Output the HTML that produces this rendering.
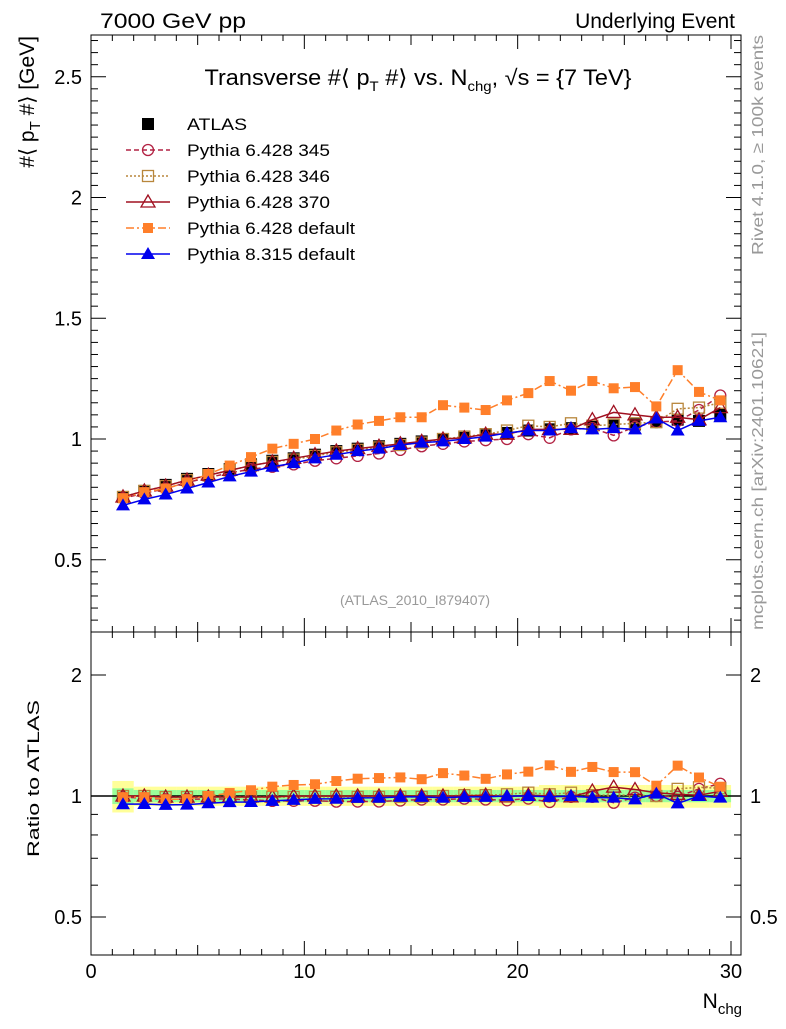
<!DOCTYPE html>
<html><head><meta charset="utf-8"><style>
body{margin:0;background:#fff;}
svg text{font-family:"Liberation Sans",sans-serif;}
</style></head><body>
<svg id="c" width="786" height="1024" xmlns="http://www.w3.org/2000/svg"></svg>
<script>
const xs=[1.5,2.5,3.5,4.5,5.5,6.5,7.5,8.5,9.5,10.5,11.5,12.5,13.5,14.5,15.5,16.5,17.5,18.5,19.5,20.5,21.5,22.5,23.5,24.5,25.5,26.5,27.5,28.5,29.5];
const atlas=[0.76,0.785,0.81,0.835,0.855,0.875,0.895,0.91,0.92,0.935,0.95,0.96,0.97,0.98,0.99,1.0,1.005,1.015,1.025,1.035,1.04,1.045,1.05,1.055,1.06,1.07,1.08,1.075,1.1];
const p345=[0.755,0.775,0.795,0.82,0.84,0.86,0.875,0.885,0.895,0.91,0.92,0.93,0.94,0.955,0.97,0.98,0.99,0.995,1.0,1.02,1.005,1.04,1.045,1.015,1.05,1.07,1.075,1.12,1.18];
const p346=[0.76,0.785,0.805,0.83,0.85,0.87,0.89,0.905,0.915,0.93,0.945,0.955,0.965,0.975,0.985,1.0,1.01,1.02,1.035,1.055,1.05,1.065,1.055,1.06,1.065,1.07,1.125,1.13,1.15];
const p370=[0.76,0.785,0.805,0.83,0.85,0.87,0.89,0.905,0.92,0.935,0.95,0.96,0.97,0.98,0.99,1.0,1.005,1.02,1.02,1.04,1.04,1.04,1.08,1.11,1.10,1.09,1.09,1.08,1.13];
const p6def=[0.755,0.78,0.795,0.82,0.855,0.89,0.925,0.96,0.98,1.0,1.035,1.06,1.075,1.09,1.09,1.14,1.13,1.12,1.16,1.19,1.24,1.2,1.24,1.21,1.215,1.135,1.285,1.195,1.16];
const p8def=[0.725,0.75,0.77,0.795,0.82,0.845,0.865,0.885,0.9,0.92,0.935,0.95,0.96,0.975,0.985,0.99,1.0,1.01,1.025,1.035,1.035,1.045,1.04,1.045,1.04,1.085,1.035,1.075,1.09];
const xTicks=[0,10,20,30];
const yTicks=[0.5,1,1.5,2,2.5];
const rTicks=[0.5,1,2];

const S=document.getElementById('c');const NS='http://www.w3.org/2000/svg';
function el(t,a,p){const e=document.createElementNS(NS,t);for(const k in a)e.setAttribute(k,a[k]);(p||S).appendChild(e);return e;}
const X0=91,X1=741,YT=35,YM=632,YB=955;
const xp=v=>91+v*21.333;
const yp=v=>439-(v-1)*241.5;
const rp=v=>796-Math.log2(v)*121;

// ratio bands
xs.forEach((x,i)=>{
  const w=i===0?0.09:(i>=20?0.065:0.055);
  let r=el('rect',{x:xp(x-0.5),y:rp(1+w),width:21.4,height:rp(1-w)-rp(1+w),fill:'#ffff99'});
  
  const g=i===0?0.045:0.035;
  r=el('rect',{x:xp(x-0.5),y:rp(1+g),width:21.4,height:rp(1-g)-rp(1+g),fill:'#99ff99'});
  
});
el('line',{x1:X0,x2:X1,y1:rp(1),y2:rp(1),stroke:'#000','stroke-width':1.5});

for(const [a,b] of [[YT,YM],[YM,YB]]){const f=el('rect',{x:X0,y:a,width:X1-X0,height:b-a,fill:'none',stroke:'#000','stroke-width':1});}
for(let v=0;v<=30;v++){const L=v%10===0?14:(v%5===0?10:6);const x=xp(v);
  for(const [a,b] of [[YT,YM],[YM,YB]]){el('line',{x1:x,x2:x,y1:b,y2:b-L,stroke:'#000'});el('line',{x1:x,x2:x,y1:a,y2:a+L,stroke:'#000'});}}
xTicks.forEach(v=>{const t=el('text',{x:xp(v),y:978,'font-size':20,'text-anchor':'middle'});t.textContent=v;});
for(let v=0.25;v<=2.65;v+=0.05){const vv=Math.round(v*100)/100;const maj=Math.abs(vv*2-Math.round(vv*2))<1e-6;const L=maj?15:7;const y=yp(vv);
  el('line',{x1:X0,x2:X0+L,y1:y,y2:y,stroke:'#000'});el('line',{x1:X1,x2:X1-L,y1:y,y2:y,stroke:'#000'});}
yTicks.forEach(v=>{const t=el('text',{x:82,y:yp(v)+7,'font-size':20,'text-anchor':'end'});t.textContent=v;});
[0.5,0.6,0.7,0.8,0.9,1,2].forEach(v=>{const L=(v===0.5||v===1||v===2)?15:7;const y=rp(v);el('line',{x1:X0,x2:X0+L,y1:y,y2:y,stroke:'#000'});el('line',{x1:X1,x2:X1-L,y1:y,y2:y,stroke:'#000'});});
rTicks.forEach(v=>{let t=el('text',{x:82,y:rp(v)+7,'font-size':20,'text-anchor':'end'});t.textContent=v;
  t=el('text',{x:750,y:rp(v)+7,'font-size':20});t.textContent=v;});

function marker(t,x,y,c,name){let e;
  if(t==='sq')e=el('rect',{x:x-6,y:y-6,width:12,height:12,fill:c});
  else if(t==='fsq')e=el('rect',{x:x-5,y:y-5,width:10,height:10,fill:c});
  else if(t==='osq')e=el('rect',{x:x-5.5,y:y-5.5,width:11,height:11,fill:'none',stroke:c,'stroke-width':1.3});
  else if(t==='oc')e=el('circle',{cx:x,cy:y,r:5.5,fill:'none',stroke:c,'stroke-width':1.3});
  else if(t==='otri')e=el('polygon',{points:`${x},${y-7} ${x-7},${y+5} ${x+7},${y+5}`,fill:'none',stroke:c,'stroke-width':1.3});
  else e=el('polygon',{points:`${x},${y-7} ${x-7},${y+5} ${x+7},${y+5}`,fill:c});
  }
const series=[
 {d:p345,c:'#b22243',m:'oc',dash:'5,3',n:'pythia-6428-345'},
 {d:p346,c:'#b8863b',m:'osq',dash:'2,2',n:'pythia-6428-346'},
 {d:p370,c:'#a01020',m:'otri',dash:'',n:'pythia-6428-370'},
 {d:p6def,c:'#ff7f2a',m:'fsq',dash:'8,3,2,3',n:'pythia-6428-default'},
 {d:p8def,c:'#0000ee',m:'tri',dash:'',n:'pythia-8315-default'}];
xs.forEach((x,i)=>marker('sq',xp(x),yp(atlas[i]),'#000','atlas-point'));
series.forEach(s=>{
  const pts=xs.map((x,i)=>xp(x)+','+yp(s.d[i])).join(' ');
  let l=el('polyline',{points:pts,fill:'none',stroke:s.c,'stroke-width':1.5,'stroke-dasharray':s.dash});
  xs.forEach((x,i)=>marker(s.m,xp(x),yp(s.d[i]),s.c,s.n+'-point'));
  const rpts=xs.map((x,i)=>xp(x)+','+rp(s.d[i]/atlas[i])).join(' ');
  l=el('polyline',{points:rpts,fill:'none',stroke:s.c,'stroke-width':1.5,'stroke-dasharray':s.dash});
  xs.forEach((x,i)=>marker(s.m,xp(x),rp(s.d[i]/atlas[i]),s.c,s.n+'-ratio-point'));
});
const leg=[['sq','#000','','ATLAS',60],['oc','#b22243','5,3','Pythia 6.428 345',143],['osq','#b8863b','2,2','Pythia 6.428 346',143],['otri','#a01020','','Pythia 6.428 370',143],['fsq','#ff7f2a','8,3,2,3','Pythia 6.428 default',168],['tri','#0000ee','','Pythia 8.315 default',168]];
leg.forEach((L,i)=>{const y=124+i*26;
  if(i>0){const l=el('line',{x1:126,x2:170,y1:y,y2:y,stroke:L[1],'stroke-width':1.5,'stroke-dasharray':L[2]});}
  marker(L[0],148,y,L[1],'legend-marker');
  const t=el('text',{x:187,y:y+6,'font-size':17,textLength:L[4],lengthAdjust:'spacingAndGlyphs'});t.textContent=L[3];});
function txt(x,y,s,str,attrs,name){const t=el('text',Object.assign({x:x,y:y,'font-size':s},attrs||{}));t.innerHTML=str;return t;}
txt(100,28,21,'7000 GeV pp',{textLength:146,lengthAdjust:'spacingAndGlyphs'},'energy-label');
txt(735,28,21,'Underlying Event',{'text-anchor':'end'},'process-label');
txt(418,85,22,'Transverse #⟨ p<tspan dy="6" font-size="14">T</tspan><tspan dy="-6"> #⟩ vs. N</tspan><tspan dy="6" font-size="14">chg</tspan><tspan dy="-6">, √s = {7 TeV}</tspan>',{'text-anchor':'middle',textLength:427,lengthAdjust:'spacingAndGlyphs'},'plot-title');
txt(415,605,14,'(ATLAS_2010_I879407)',{'text-anchor':'middle',fill:'#999'},'analysis-id');
txt(742,1008,21,'N<tspan dy="6" font-size="15">chg</tspan>',{'text-anchor':'end'},'x-axis-title');
txt(0,0,21,'#⟨ p<tspan dy="6" font-size="15">T</tspan><tspan dy="-6"> #⟩ [GeV]</tspan>',{transform:'translate(34,36) rotate(-90)','text-anchor':'end'},'y-axis-title');
txt(0,0,17,'Ratio to ATLAS',{transform:'translate(39,857) rotate(-90)',textLength:157,lengthAdjust:'spacingAndGlyphs'},'ratio-axis-title');
txt(0,0,16,'Rivet 4.1.0, ≥ 100k events',{transform:'translate(763,255) rotate(-90)',fill:'#999',textLength:220,lengthAdjust:'spacingAndGlyphs'},'rivet-label');
txt(0,0,16,'mcplots.cern.ch [arXiv:2401.10621]',{transform:'translate(763,630) rotate(-90)',fill:'#999',textLength:298,lengthAdjust:'spacingAndGlyphs'},'mcplots-label');
</script>
</body></html>
